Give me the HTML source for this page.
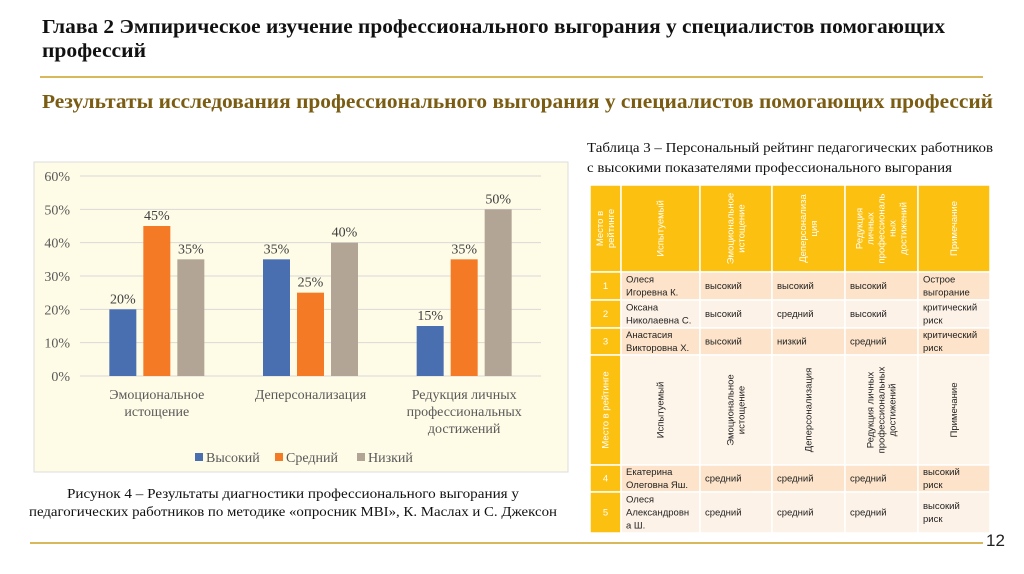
<!DOCTYPE html>
<html><head><meta charset="utf-8"><style>
html,body{margin:0;padding:0;background:#fff;}
svg{display:block;}
text{font-family:"Liberation Serif",serif;}
.s{font-family:"Liberation Sans",sans-serif;}
</style></head><body>
<svg id="root" width="1024" height="574" viewBox="0 0 1024 574" xmlns="http://www.w3.org/2000/svg">
<rect width="1024" height="574" fill="#fff"/>
<text x="42" y="33" font-size="20" font-weight="bold" fill="#111" textLength="903" lengthAdjust="spacingAndGlyphs">Глава 2 Эмпирическое изучение профессионального выгорания у специалистов помогающих</text>
<text x="42" y="57" font-size="20" font-weight="bold" fill="#111" textLength="104" lengthAdjust="spacingAndGlyphs">профессий</text>
<rect x="40" y="76" width="943" height="2" fill="#d9b85c"/>
<text x="42" y="108" font-size="20" font-weight="bold" fill="#7a5c12" textLength="951" lengthAdjust="spacingAndGlyphs">Результаты исследования профессионального выгорания у специалистов помогающих профессий</text>

<g>
<rect x="34" y="162" width="534" height="310" fill="#fefbe6" stroke="#ddd"/>
<g id="grid"></g><g id="bars"></g><g id="labels"></g>
</g>

<text x="67" y="498" font-size="14" fill="#111" textLength="452" lengthAdjust="spacingAndGlyphs">Рисунок 4 – Результаты диагностики профессионального выгорания у</text>
<text x="29" y="516" font-size="14" fill="#111" textLength="528" lengthAdjust="spacingAndGlyphs">педагогических работников по методике «опросник MBI», К. Маслах и С. Джексон</text>

<text x="587" y="152" font-size="14" fill="#111" textLength="406" lengthAdjust="spacingAndGlyphs">Таблица 3 – Персональный рейтинг педагогических работников</text>
<text x="587" y="172" font-size="14" fill="#111" textLength="365" lengthAdjust="spacingAndGlyphs">с высокими показателями профессионального выгорания</text>
<g id="table"></g>

<rect x="30" y="542" width="953" height="2" fill="#d9b85c"/>
<text x="986" y="546" font-size="17" class="s" fill="#222">12</text>
</svg>
<script>
const categories=[["Эмоциональное","истощение"],["Деперсонализация"],["Редукция личных","профессиональных","достижений"]];
const seriesNames=["Высокий","Средний","Низкий"];
const high=[20,35,15];
const mid=[45,25,35];
const low=[35,40,50];
const yTicks=[0,10,20,30,40,50,60];
const colors=["#4a6fb0","#f47a26","#b2a595"];
const NS="http://www.w3.org/2000/svg";
function mk(tag,attrs,parent,txt){const e=document.createElementNS(NS,tag);for(const k in attrs)e.setAttribute(k,attrs[k]);if(txt!==undefined)e.textContent=txt;parent.appendChild(e);return e;}
const x0=80,x1=541,y0=376,y1=176,ymax=60;
const yS=v=>y0-(v/ymax)*(y0-y1);
const band=(x1-x0)/categories.length;
const xC=i=>x0+band*(i+0.5);
const grid=document.getElementById('grid'),bars=document.getElementById('bars'),lab=document.getElementById('labels');
yTicks.forEach(t=>{
 const l=mk('line',{x1:x0,x2:x1,y1:yS(t),y2:yS(t),stroke:'#d9d9d9','stroke-width':1},grid);
 
 
 const tx=mk('text',{x:70,y:yS(t)+5,'text-anchor':'end','font-size':14,fill:'#595959'},grid,t+'%');
 
 
});
const series=[high,mid,low];
const bw=27,gap=7;
categories.forEach((c,i)=>{
 series.forEach((s,j)=>{
  const bx=xC(i)+(j-1)*(bw+gap)-bw/2;
  const r=mk('rect',{x:bx,y:yS(s[i]),width:bw,height:y0-yS(s[i]),fill:colors[j]},bars);
  
  
  const t=mk('text',{x:bx+bw/2,y:yS(s[i])-6,'text-anchor':'middle','font-size':14,fill:'#404040'},lab,s[i]+'%');
  
  
 });
 c.forEach((ln,k)=>{
  const t=mk('text',{x:xC(i),y:399+k*17,'text-anchor':'middle','font-size':14,fill:'#595959'},lab,ln);
  
  
 });
});
const legX=[195,275,357];
seriesNames.forEach((n,j)=>{
 const r=mk('rect',{x:legX[j],y:453,width:8,height:8,fill:colors[j]},lab);
 
 
 const t=mk('text',{x:legX[j]+11,y:462,'font-size':14,fill:'#595959'},lab,n);
 
 
});

// table
const tb=document.getElementById('table');
const cols=[590,621,700,772,845,918,990];
const rows=[185,272,300,328,355,465,492,533];
const head=[["Место в","рейтинге"],["Испытуемый"],["Эмоциональное","истощение"],["Деперсонализа","ция"],["Редукция","личных","профессиональ","ных","достижений"],["Примечание"]];
const head2=[["Место в рейтинге"],["Испытуемый"],["Эмоциональное","истощение"],["Деперсонализация"],["Редукция личных","профессиональных","достижений"],["Примечание"]];
const body=[
 ["1",["Олеся","Игоревна К."],"высокий","высокий","высокий",["Острое","выгорание"]],
 ["2",["Оксана","Николаевна С."],"высокий","средний","высокий",["критический","риск"]],
 ["3",["Анастасия","Викторовна Х."],"высокий","низкий","средний",["критический","риск"]],
 null,
 ["4",["Екатерина","Олеговна Яш."],"средний","средний","средний",["высокий","риск"]],
 ["5",["Олеся","Александровн","а Ш."],"средний","средний","средний",["высокий","риск"]]
];
function vtext(lines,cx,cy,fill,name){
 const g=mk('g',{transform:`translate(${cx},${cy}) rotate(-90)`},tb);
 
 
 const n=lines.length;
 lines.forEach((l,k)=>mk('text',{x:0,y:(k-(n-1)/2)*11+3,'text-anchor':'middle','font-size':9.5,class:'s',fill:fill},g,l));
}
function cell(x,y,w,h,fill){const r=mk('rect',{x:x,y:y,width:w,height:h,fill:fill,stroke:'#fff','stroke-width':1.5},tb);}
// header
for(let c=0;c<6;c++){cell(cols[c],rows[0],cols[c+1]-cols[c],rows[1]-rows[0],'#fcc010');vtext(head[c],(cols[c]+cols[c+1])/2,(rows[0]+rows[1])/2,'#fff','header-cell');}
body.forEach((r,i)=>{
 const y=rows[i+1],h=rows[i+2]-y;
 if(!r){
  cell(cols[0],y,cols[1]-cols[0],h,'#fcc010');
  for(let c=1;c<6;c++)cell(cols[c],y,cols[c+1]-cols[c],h,'#fdf4ea');
  for(let c=0;c<6;c++)vtext(head2[c],(cols[c]+cols[c+1])/2,y+h/2,c==0?'#fff':'#222','header-repeat-cell');
  return;
 }
 const bg=(i%2==0)?'#fce3c9':'#fdf2e7';
 cell(cols[0],y,cols[1]-cols[0],h,'#fcc010');
 for(let c=1;c<6;c++)cell(cols[c],y,cols[c+1]-cols[c],h,bg);
 const cy=y+h/2;
 const t=mk('text',{x:(cols[0]+cols[1])/2,y:cy+3,'text-anchor':'middle','font-size':9.5,class:'s',fill:'#fff'},tb,r[0]);
 
 for(let c=1;c<6;c++){
  const v=r[c];const lines=Array.isArray(v)?v:[v];const n=lines.length;
  lines.forEach((l,k)=>{const e=mk('text',{x:cols[c]+5,y:cy+3+(k-(n-1)/2)*13,'font-size':9.5,class:'s',fill:'#222'},tb,l);
   });
 }
});
</script>
</body></html>
